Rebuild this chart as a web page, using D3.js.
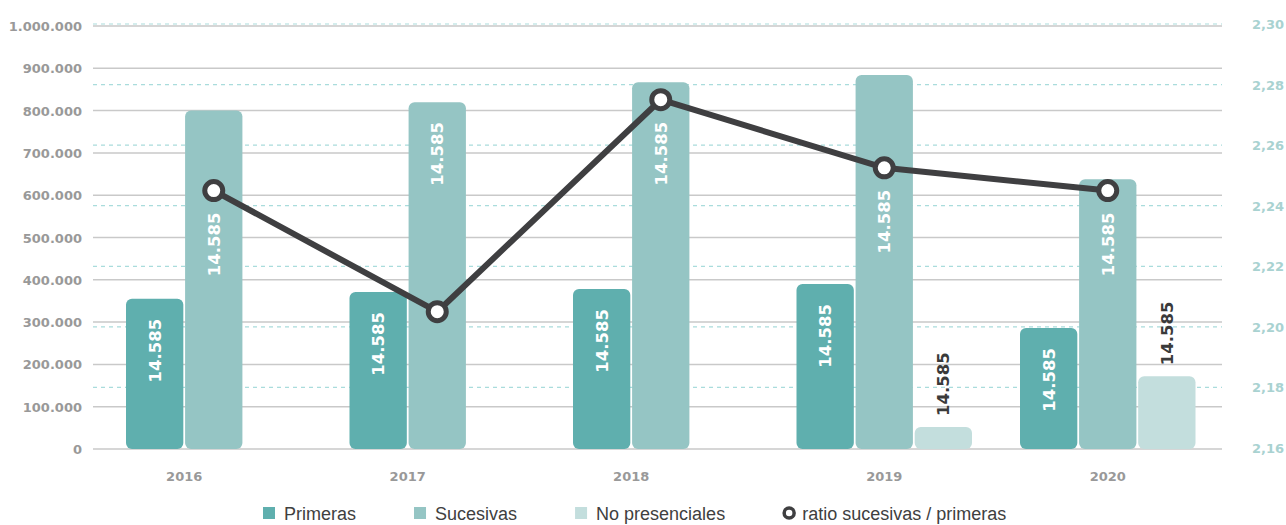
<!DOCTYPE html>
<html>
<head>
<meta charset="utf-8">
<script src="https://cdn.jsdelivr.net/npm/d3@7"></script>
<style>
  body { margin: 0; background: #fff; }
  svg { display: block; }
</style>
</head>
<body>
<script>
// chart data
var years = ["2016", "2017", "2018", "2019", "2020"];
var series = ["Primeras", "Sucesivas", "No presenciales"];
var primeras = [355000, 371000, 378000, 390000, 286000];
var sucesivas = [800000, 820000, 867000, 884000, 638000];
var noPresenciales = [0, 0, 0, 52000, 172000];
var ratio = [2.245, 2.205, 2.275, 2.2525, 2.245];
var barLabels = ["14.585", "14.585", "14.585", "14.585", "14.585"];
var leftTicks = [0, 100000, 200000, 300000, 400000, 500000, 600000, 700000, 800000, 900000, 1000000];
var rightTicks = [2.16, 2.18, 2.20, 2.22, 2.24, 2.26, 2.28, 2.30];

var width = 1286,
    height = 525;

var colors = ["#5fafae", "#95c5c4", "#c3dedd"];
var values = [primeras, sucesivas, noPresenciales];

var svg = d3.select("body").append("svg")
    .attr("width", width)
    .attr("height", height);

var gridLeft = 93, gridRight = 1222;

var y = d3.scaleLinear().domain([0, 1000000]).range([449, 26]);
var y2 = d3.scaleLinear().domain([2.16, 2.30]).range([448, 24]);

// years are spaced evenly, bars inside a year sit side by side
var x0 = d3.scaleBand().domain(years).range([102, 1219.5]).paddingInner(0);
var x1 = d3.scaleBand().domain(series).range([24, 24 + 175.5]).paddingInner(0.03);

var fmtLeft = function(d) { return d3.format(",")(d).replace(/,/g, "."); };
var fmtRight = function(d) { return d3.format(".2f")(d).replace(".", ","); };

function styleAxisText(sel, color) {
  sel.attr("fill", color)
     .attr("font-family", "DejaVu Sans, sans-serif")
     .attr("font-weight", "bold")
     .attr("font-size", 13);
}

// solid grid (left axis)
svg.append("g")
  .selectAll("line")
  .data(leftTicks)
  .enter().append("line")
    .attr("x1", gridLeft)
    .attr("x2", gridRight)
    .attr("y1", function(d) { return y(d); })
    .attr("y2", function(d) { return y(d); })
    .attr("stroke", "#c9c9c9")
    .attr("stroke-width", 1.5);

// dashed grid (right axis)
svg.append("g")
  .selectAll("line")
  .data(rightTicks.slice(1))
  .enter().append("line")
    .attr("x1", gridLeft)
    .attr("x2", gridRight)
    .attr("y1", function(d) { return y2(d); })
    .attr("y2", function(d) { return y2(d); })
    .attr("stroke", "#a9dcdc")
    .attr("stroke-width", 1.2)
    .attr("stroke-dasharray", "4,4");

// left axis labels
var leftAxis = svg.append("g")
    .attr("transform", "translate(" + (gridLeft + 1) + ",0)")
    .call(d3.axisLeft(y).tickValues(leftTicks).tickFormat(fmtLeft).tickSize(0).tickPadding(12));
leftAxis.select(".domain").remove();
leftAxis.attr("font-size", null).attr("font-family", null);
leftAxis.selectAll("text").attr("dy", "0.35em").call(styleAxisText, "#999999");

// right axis labels
var rightAxis = svg.append("g")
    .attr("transform", "translate(1240,0)")
    .call(d3.axisRight(y2).tickValues(rightTicks).tickFormat(fmtRight).tickSize(0).tickPadding(12));
rightAxis.select(".domain").remove();
rightAxis.attr("font-size", null).attr("font-family", null);
rightAxis.selectAll("text").attr("dy", "0.35em").call(styleAxisText, "#a9d2d1");

// build bar records
var bars = [];
years.forEach(function(yr, i) {
  series.forEach(function(s, j) {
    if (values[j][i] > 0) {
      bars.push({ year: yr, i: i, j: j, value: values[j][i], x: x0(yr) + x1(s) });
    }
  });
});

svg.append("g")
  .selectAll("rect")
  .data(bars)
  .enter().append("rect")
    .attr("x", function(d) { return d.x; })
    .attr("y", function(d) { return y(d.value); })
    .attr("width", x1.bandwidth())
    .attr("height", function(d) { return y(0) - y(d.value); })
    .attr("rx", 6)
    .attr("fill", function(d) { return colors[d.j]; });

// year labels centred under the bars that exist
var yearCenter = years.map(function(yr, i) {
  var b = bars.filter(function(d) { return d.i === i; });
  return (d3.min(b, function(d) { return d.x; }) + d3.max(b, function(d) { return d.x; }) + x1.bandwidth()) / 2;
});

svg.append("g")
  .selectAll("text")
  .data(years)
  .enter().append("text")
    .attr("x", function(d, i) { return yearCenter[i]; })
    .attr("y", 481)
    .attr("text-anchor", "middle")
    .call(styleAxisText, "#999999")
    .text(function(d) { return d; });

// ratio line
var linePts = years.map(function(yr, i) {
  return [x0(yr) + x1("Sucesivas") + x1.bandwidth() / 2, y2(ratio[i])];
});

// bar value labels (rotated)
svg.append("g")
  .selectAll("text")
  .data(bars)
  .enter().append("text")
    .attr("transform", function(d) {
      var cx = d.x + x1.bandwidth() / 2;
      var top;
      if (d.j === 2) {
        top = y(d.value) - 11;
        return "translate(" + (cx + 6) + "," + top + ") rotate(-90)";
      }
      top = y(d.value) + 20;
      var p = linePts[d.i];
      // push the label below the ratio marker when they would overlap
      if (d.j === 1 && p[1] > y(d.value) - 12 && p[1] < top + 80) top = p[1] + 22;
      return "translate(" + (cx + 6) + "," + top + ") rotate(-90)";
    })
    .attr("text-anchor", function(d) { return d.j === 2 ? "start" : "end"; })
    .attr("font-family", "DejaVu Sans, sans-serif")
    .attr("font-weight", "bold")
    .attr("font-size", 16.5)
    .attr("fill", function(d) { return d.j === 2 ? "#3a3a3a" : "#ffffff"; })
    .text(function(d) { return barLabels[d.i]; });

svg.append("path")
    .datum(linePts)
    .attr("d", d3.line())
    .attr("fill", "none")
    .attr("stroke", "#3f3f41")
    .attr("stroke-width", 6)
    .attr("stroke-linejoin", "round");

svg.append("g")
  .selectAll("circle")
  .data(linePts)
  .enter().append("circle")
    .attr("cx", function(d) { return d[0]; })
    .attr("cy", function(d) { return d[1]; })
    .attr("r", 9)
    .attr("fill", "#ffffff")
    .attr("stroke", "#3f3f41")
    .attr("stroke-width", 5);

// legend
var legendItems = series.concat(["ratio sucesivas / primeras"]);
var legend = svg.append("g").attr("transform", "translate(0,513)");
var lx = 263;
legendItems.forEach(function(name, k) {
  var g = legend.append("g").attr("transform", "translate(" + lx + ",0)");
  if (k < 3) {
    g.append("rect").attr("x", 0).attr("y", -6).attr("width", 12).attr("height", 12).attr("fill", colors[k]);
  } else {
    g.append("circle").attr("cx", 6).attr("cy", 0).attr("r", 5).attr("fill", "#fff").attr("stroke", "#3f3f41").attr("stroke-width", 3.5);
  }
  var t = g.append("text")
      .attr("x", k < 3 ? 21 : 19)
      .attr("y", 6.5)
      .attr("font-family", "Liberation Sans, Arial, sans-serif")
      .attr("font-size", 18)
      .attr("fill", "#404040")
      .text(name);
  lx += (k < 3 ? 21 : 19) + t.node().getComputedTextLength() + 58;
});
</script>
</body>
</html>
